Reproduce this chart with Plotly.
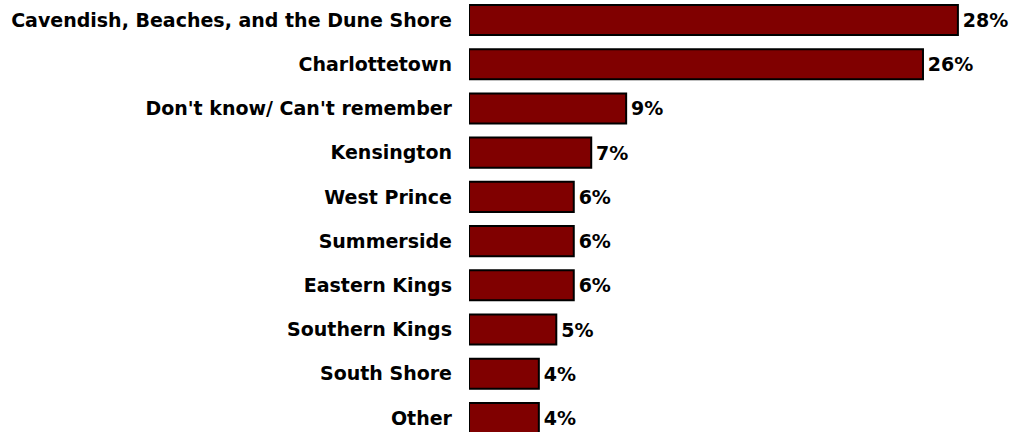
import plotly.graph_objects as go

categories = ["Cavendish, Beaches, and the Dune Shore", "Charlottetown", "Don't know/ Can't remember",
              "Kensington", "West Prince", "Summerside", "Eastern Kings", "Southern Kings",
              "South Shore", "Other"]
values = [28, 26, 9, 7, 6, 6, 6, 5, 4, 4]
labels = [f"{v}%" for v in values]

FONT = "DejaVu Sans"
SIZE = 19

fig = go.Figure(go.Bar(
    x=values, y=categories, orientation="h",
    marker=dict(color="#800000", line=dict(color="#000000", width=2)),
    text=labels, textposition="outside", cliponaxis=False,
    texttemplate="<b>\u200a%{text}</b>",
    textfont=dict(family=FONT, size=SIZE, color="#000000"),
    width=0.68,
))

fig.update_layout(
    width=1015, height=432,
    margin=dict(l=469, r=0, t=0, b=0),
    paper_bgcolor="white", plot_bgcolor="white",
    showlegend=False,
    font=dict(family=FONT, size=SIZE, color="#000000"),
    xaxis=dict(range=[0, 31.27], visible=False, showgrid=False, zeroline=False),
    yaxis=dict(range=[9.317, -0.452], showgrid=False, zeroline=False, showline=False,
               ticks="", ticklabelstandoff=16,
               tickvals=categories, ticktext=[f"<b>{c}</b>" for c in categories],
               tickfont=dict(family=FONT, size=SIZE, color="#000000")),
)

fig.write_html("out.html", config={"displayModeBar": False},
               post_script="document.body.style.margin='0';document.body.style.padding='0';window.dispatchEvent(new Event('resize'));")
